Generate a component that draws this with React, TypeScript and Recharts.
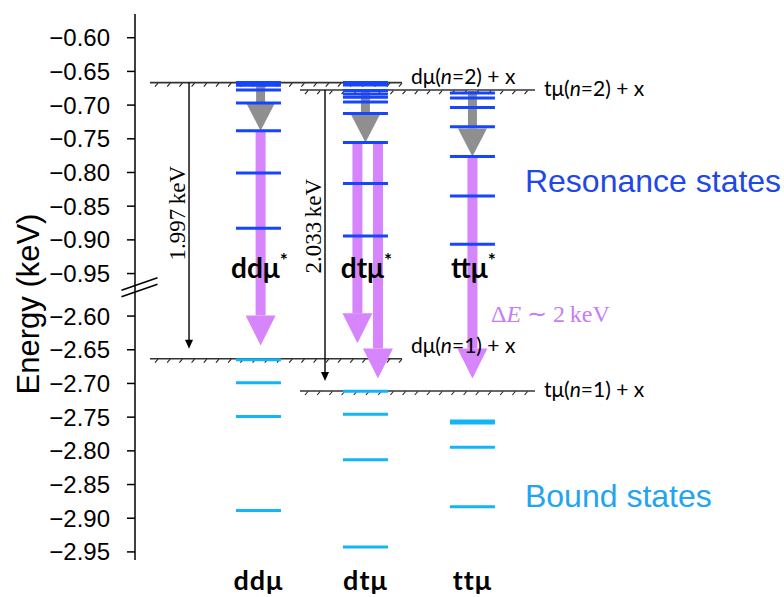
import React from 'react'
import { ComposedChart, Scatter, XAxis, YAxis, ReferenceLine, ReferenceDot, Label } from 'recharts'

const molecules = ['ddμ', 'dtμ', 'ttμ']

const upperTicks = [-0.6, -0.65, -0.7, -0.75, -0.8, -0.85, -0.9, -0.95]
const lowerTicks = [-2.6, -2.65, -2.7, -2.75, -2.8, -2.85, -2.9, -2.95]

// level energies in keV
const ddResonance = [-0.6666, -0.6705, -0.6777, -0.697, -0.7382, -0.8006, -0.8828]
const dtResonance = [-0.6666, -0.6703, -0.6785, -0.6834, -0.6884, -0.6955, -0.7123, -0.7554, -0.8163, -0.8942]
const ttResonance = [-0.6822, -0.6896, -0.7034, -0.7322, -0.7762, -0.8348, -0.9066]
const ddBound = [-2.6648, -2.699, -2.749, -2.8887]
const dtBound = [-2.7114, -2.7456, -2.8134, -2.9427]
const ttBound = [-2.7556, -2.7586, -2.7947, -2.8828]

// thresholds: dμ(n=2), tμ(n=2), dμ(n=1), tμ(n=1)
const thresholdAtom = ['dμ', 'tμ', 'dμ', 'tμ']
const thresholdN = ['2', '2', '1', '1']
const thresholdEnergy = [-0.6666, -0.6777, -2.6633, -2.7112]

const gapValues = ['1.997', '2.033']
const gapFrom = [-0.6666, -0.6777]
const gapTo = [-2.6633, -2.7112]

// de-excitation arrows
const grayFrom = [-0.6666, -0.6777, -0.6777]
const grayTo = [-0.7382, -0.7554, -0.7762]
const purpleMol = [1, 2, 2, 3]
const purpleFrom = [-0.7382, -0.7554, -0.7554, -0.7762]
const purpleTo = [-2.6435, -2.6405, -2.6926, -2.6926]

// broken energy axis: the lower block is shifted up to sit just under -0.95
const BREAK_SHIFT = 1.5869
const toAxis = (e: number) => (e < -1.5 ? e + BREAK_SHIFT : e)
const fromAxis = (v: number) => (v < -0.98 ? v - BREAK_SHIFT : v)

// layout
const X_DOMAIN = [-0.154, 5.8]
const Y_DOMAIN = [-1.3751, -0.5648]
const SPANS = [[-0.014, 2.341], [1.388, 3.585], [-0.014, 2.341], [1.388, 3.585]]
const LABEL_DY = [1, 6, -6, 6]
const GAP_X = [0.351, 1.622]
const GAP_LABEL_Y = [-0.8605, -0.8798]
const GRAY_DX = [0.02, 0, 0]
const PURPLE_DX = [0.02, -0.075, 0.117, 0]

const COLORS = {
  res: '#1645ff',
  bound: '#12b5f7',
  purple: '#d685fc',
  gray: '#8f8f8f',
  resText: '#1f48e8',
  boundText: '#22a4f0',
  deText: '#c77cf9',
}

const SANS = '"Liberation Sans", Arial, Helvetica, sans-serif'
const HUMAN = 'Lato, "Open Sans", sans-serif'
const SERIF = '"Liberation Serif", "Times New Roman", serif'

const resonance = [ddResonance, dtResonance, ttResonance].flatMap((arr, i) => arr.map((e) => ({ x: i + 1, y: toAxis(e) })))
const bound = [ddBound, dtBound, ttBound].flatMap((arr, i) => arr.map((e) => ({ x: i + 1, y: toAxis(e) })))

const levelShape = (color: string) => (p: any) => (
  <line x1={p.cx - 22.5} x2={p.cx + 22.5} y1={p.cy} y2={p.cy} stroke={color} strokeWidth={3} />
)

const hatchedShape = (p: any) => {
  const { x1, x2, y1 } = p
  const marks = []
  for (let x = x1 + 5; x < x2 - 2; x += 12.2) {
    marks.push(<line key={x} x1={x} y1={y1 + 4} x2={x + 3} y2={y1 + 0.5} stroke="#222" strokeWidth={1.1} />)
  }
  return (
    <g>
      <line x1={x1} y1={y1} x2={x2} y2={y1} stroke="#333" strokeWidth={1.6} />
      {marks}
    </g>
  )
}

const thresholdLabel = (i: number) => (p: any) => (
  <text x={p.cx + 9} y={p.cy + LABEL_DY[i]} fontFamily={HUMAN} fontSize={21} fill="#000">
    {thresholdAtom[i]}(<tspan fontStyle="italic">n</tspan>={thresholdN[i]}) + x
  </text>
)

const fatArrow = (fill: string, shaftW: number, headW: number, headL: number) => (p: any) => {
  const { x1, y1, y2 } = p
  const yh = y2 - headL
  return (
    <g>
      <rect x={x1 - shaftW / 2} y={y1} width={shaftW} height={Math.max(0, yh - y1)} fill={fill} />
      <polygon points={`${x1 - headW / 2},${yh} ${x1 + headW / 2},${yh} ${x1},${y2}`} fill={fill} />
    </g>
  )
}

const thinArrow = (p: any) => {
  const { x1, y1, y2 } = p
  const tip = y2 - 10
  return (
    <g>
      <line x1={x1} y1={y1} x2={x1} y2={tip - 6} stroke="#000" strokeWidth={1.4} />
      <polygon points={`${x1 - 4},${tip - 9} ${x1 + 4},${tip - 9} ${x1},${tip}`} fill="#000" />
    </g>
  )
}

const MolTick = (props: any) => {
  const { x, y, payload } = props
  return (
    <text x={x} y={y + 22} textAnchor="middle" fontFamily={HUMAN} fontWeight={700} fontSize={27} letterSpacing={1} fill="#000">
      {molecules[payload.value - 1]}
    </text>
  )
}

export default function App() {
  return (
    <div style={{ position: 'absolute', left: 0, top: 0, background: '#fff' }}>
      <ComposedChart width={784} height={597} margin={{ top: 14, right: 12, left: 0, bottom: 7 }}>
        <XAxis
          type="number"
          dataKey="x"
          domain={X_DOMAIN}
          ticks={[1, 2, 3]}
          allowDataOverflow
          axisLine={false}
          tickLine={false}
          height={30}
          tick={<MolTick />}
        />
        <YAxis
          type="number"
          dataKey="y"
          domain={Y_DOMAIN}
          ticks={[...upperTicks, ...lowerTicks].map(toAxis)}
          interval={0}
          allowDataOverflow
          width={135}
          tickSize={8}
          tickMargin={17}
          axisLine={{ stroke: '#000', strokeWidth: 1.5 }}
          tickLine={{ stroke: '#000', strokeWidth: 1.5 }}
          tick={{ fill: '#000', fontSize: 24, fontFamily: SANS }}
          tickFormatter={(v: number) => '\u2212' + Math.abs(fromAxis(v)).toFixed(2)}
        >
          <Label
            content={({ viewBox }: any) => {
              const cx = viewBox.x + 39
              const cy = viewBox.y + viewBox.height / 2 + 17
              return (
                <text x={cx} y={cy} transform={`rotate(-90 ${cx} ${cy})`} textAnchor="middle" fontFamily={SANS} fontSize={31} fill="#000">
                  Energy (keV)
                </text>
              )
            }}
          />
        </YAxis>

        {/* axis break marks */}
        <ReferenceDot
          x={-0.112}
          y={-0.9703}
          r={0}
          ifOverflow="visible"
          shape={(p: any) => (
            <g stroke="#000" strokeWidth={1.5}>
              <line x1={p.cx - 18} y1={p.cy + 3} x2={p.cx + 18} y2={p.cy - 9.5} />
              <line x1={p.cx - 18} y1={p.cy + 9.5} x2={p.cx + 18} y2={p.cy - 3} />
            </g>
          )}
        />

        {thresholdEnergy.map((e, i) => (
          <ReferenceLine
            key={`th-${i}`}
            segment={[{ x: SPANS[i][0], y: toAxis(e) }, { x: SPANS[i][1], y: toAxis(e) }]}
            ifOverflow="visible"
            shape={hatchedShape}
          />
        ))}

        {grayFrom.map((from, i) => (
          <ReferenceLine
            key={`gray-${i}`}
            segment={[{ x: i + 1 + GRAY_DX[i], y: toAxis(from) }, { x: i + 1 + GRAY_DX[i], y: toAxis(grayTo[i]) }]}
            ifOverflow="visible"
            shape={fatArrow(COLORS.gray, 9, 29, 28)}
          />
        ))}

        {purpleMol.map((m, i) => (
          <ReferenceLine
            key={`purple-${i}`}
            segment={[{ x: m + PURPLE_DX[i], y: toAxis(purpleFrom[i]) }, { x: m + PURPLE_DX[i], y: toAxis(purpleTo[i]) }]}
            ifOverflow="visible"
            shape={fatArrow(COLORS.purple, 10, 30, 30)}
          />
        ))}

        {gapValues.map((g, i) => (
          <ReferenceLine
            key={`gap-${i}`}
            segment={[{ x: GAP_X[i], y: toAxis(gapFrom[i]) }, { x: GAP_X[i], y: toAxis(gapTo[i]) }]}
            ifOverflow="visible"
            shape={thinArrow}
          />
        ))}
        {gapValues.map((g, i) => (
          <ReferenceDot
            key={`gapl-${i}`}
            x={GAP_X[i]}
            y={GAP_LABEL_Y[i]}
            r={0}
            ifOverflow="visible"
            shape={(p: any) => (
              <text
                x={p.cx - 4}
                y={p.cy}
                transform={`rotate(-90 ${p.cx - 4} ${p.cy})`}
                textAnchor="middle"
                fontFamily={SERIF}
                fontSize={23}
                fill="#000"
              >
                {g}{'\u2009'}keV
              </text>
            )}
          />
        ))}

        <Scatter data={resonance} isAnimationActive={false} shape={levelShape(COLORS.res)} />
        <Scatter data={bound} isAnimationActive={false} shape={levelShape(COLORS.bound)} />

        {thresholdEnergy.map((e, i) => (
          <ReferenceDot key={`thl-${i}`} x={SPANS[i][1]} y={toAxis(e)} r={0} ifOverflow="visible" shape={thresholdLabel(i)} />
        ))}

        {molecules.map((m, i) => (
          <ReferenceDot
            key={`star-${i}`}
            x={i + 1}
            y={-0.957}
            r={0}
            ifOverflow="visible"
            shape={(p: any) => (
              <text x={p.cx + 1} y={p.cy} textAnchor="middle" fontFamily={HUMAN} fontWeight={700} fontSize={28} fill="#000">
                {m}
                <tspan fontSize={19} dy={-11}>*</tspan>
              </text>
            )}
          />
        ))}

        <ReferenceDot
          x={3.491}
          y={-0.829}
          r={0}
          ifOverflow="visible"
          shape={(p: any) => (
            <text x={p.cx} y={p.cy} fontFamily={SANS} fontSize={32} fill={COLORS.resText}>
              Resonance states
            </text>
          )}
        />
        <ReferenceDot
          x={3.491}
          y={toAxis(-2.883)}
          r={0}
          ifOverflow="visible"
          shape={(p: any) => (
            <text x={p.cx} y={p.cy} fontFamily={SANS} fontSize={32} fill={COLORS.boundText}>
              Bound states
            </text>
          )}
        />
        <ReferenceDot
          x={3.173}
          y={toAxis(-2.6094)}
          r={0}
          ifOverflow="visible"
          shape={(p: any) => (
            <text x={p.cx} y={p.cy} fontFamily={SERIF} fontSize={24} fill={COLORS.deText}>
              Δ<tspan fontStyle="italic">E</tspan> ∼ 2{'\u2009'}keV
            </text>
          )}
        />
      </ComposedChart>
    </div>
  )
}
